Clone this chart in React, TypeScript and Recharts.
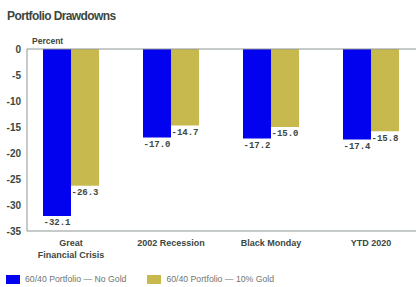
import { BarChart, Bar, XAxis, YAxis, ReferenceLine, LabelList } from "recharts";

const categories = ["Great\nFinancial Crisis", "2002 Recession", "Black Monday", "YTD 2020"];
const noGold = [-32.1, -17.0, -17.2, -17.4];
const tenGold = [-26.3, -14.7, -15.0, -15.8];
const yTicks = [0, -5, -10, -15, -20, -25, -30, -35];

const BLUE = "#0202ee";
const GOLD = "#c8b94f";
const TEXT = "#3b4741";
const AXIS = "#8d9692";
const SANS = "'Liberation Sans', Arial, sans-serif";
const MONO = "'Liberation Mono', 'DejaVu Sans Mono', monospace";

const data = categories.map((name, i) => ({
  name,
  noGold: noGold[i],
  tenGold: tenGold[i],
}));

const XTick = ({ x, y, payload }: any) => {
  const lines = String(payload.value).split("\n");
  return (
    <text
      x={x}
      y={y}
      textAnchor="middle"
      fill={TEXT}
      fontSize={9}
      fontWeight="bold"
      fontFamily={SANS}
    >
      {lines.map((l, i) => (
        <tspan key={i} x={x} dy={i === 0 ? 7 : 12}>
          {l}
        </tspan>
      ))}
    </text>
  );
};

const fmt = (v: any) => Number(v).toFixed(1);

export default function App() {
  return (
    <div style={{ position: "absolute", left: 0, top: 0, width: 416, height: 287, background: "#fff", overflow: "hidden" }}>
      <div
        style={{
          position: "absolute",
          left: 7,
          top: 9,
          fontFamily: SANS,
          fontWeight: "bold",
          fontSize: 12,
          letterSpacing: -0.6,
          color: TEXT,
        }}
      >
        Portfolio Drawdowns
      </div>
      <div
        style={{
          position: "absolute",
          left: 32,
          top: 36,
          fontFamily: SANS,
          fontWeight: "bold",
          fontSize: 8.5,
          color: TEXT,
        }}
      >
        Percent
      </div>
      <BarChart
        width={416}
        height={287}
        data={data}
        margin={{ top: 49, right: -5, left: 0, bottom: 26 }}
        barGap={0}
        barSize={28}
      >
        <YAxis
          width={27}
          domain={[-35, 0]}
          ticks={yTicks}
          interval={0}
          tickLine={false}
          tickSize={4}
          tickMargin={2}
          axisLine={{ stroke: AXIS }}
          tick={{ fill: TEXT, fontSize: 10, fontWeight: "bold", fontFamily: SANS }}
        />
        <XAxis
          dataKey="name"
          height={30}
          padding={{ left: -6, right: 0 }}
          tickLine={false}
          axisLine={{ stroke: AXIS }}
          tick={<XTick />}
          interval={0}
        />
        <ReferenceLine y={0} stroke={AXIS} />
        <Bar dataKey="noGold" fill={BLUE} isAnimationActive={false}>
          <LabelList
            dataKey="noGold"
            position="top"
            offset={3}
            formatter={fmt}
            fill={TEXT}
            fontSize={9}
            fontWeight="bold"
            fontFamily={MONO}
          />
        </Bar>
        <Bar dataKey="tenGold" fill={GOLD} isAnimationActive={false}>
          <LabelList
            dataKey="tenGold"
            position="top"
            offset={3}
            formatter={fmt}
            fill={TEXT}
            fontSize={9}
            fontWeight="bold"
            fontFamily={MONO}
          />
        </Bar>
      </BarChart>
      <div
        style={{
          position: "absolute",
          left: 6,
          top: 274,
          display: "flex",
          alignItems: "center",
          fontFamily: SANS,
          fontSize: 8.7,
          color: "#6f7572",
        }}
      >
        <span style={{ width: 14, height: 9, background: BLUE, display: "inline-block", marginRight: 5 }} />
        <span style={{ marginRight: 21 }}>60/40 Portfolio — No Gold</span>
        <span style={{ width: 14, height: 9, background: GOLD, display: "inline-block", marginRight: 5 }} />
        <span>60/40 Portfolio — 10% Gold</span>
      </div>
    </div>
  );
}
